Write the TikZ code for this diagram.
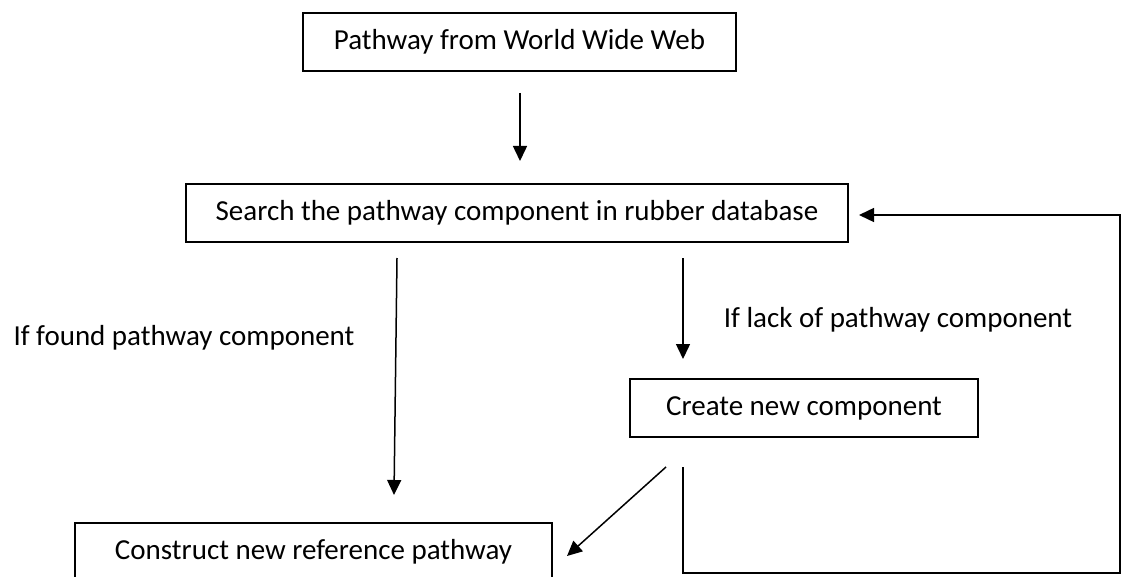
\documentclass[tikz,border=0pt]{standalone}
\usepackage{fontspec}
\setmainfont{Carlito}
\usetikzlibrary{arrows.meta}
\begin{document}
\begin{tikzpicture}[x=1pt,y=-1pt,
  box/.style={draw,line width=2pt,minimum height=58pt,inner sep=0pt,font=\fontsize{29}{35}\selectfont},
  lbl/.style={inner sep=0pt,font=\fontsize{29}{35}\selectfont},
  arr/.style={line width=1.5pt,-{Triangle[length=15pt,width=14pt]}},
  ln/.style={line width=1.5pt}]
\clip (0,0) rectangle (1123,577);
\fill[white] (0,0) rectangle (1123,577);
\node[box,minimum width=433pt] (web) at (519.5,42) {Pathway from World Wide Web};
\node[box,minimum width=662pt] (search) at (517,213) {Search the pathway component in rubber database};
\node[box,minimum width=348pt] (create) at (804,408) {Create new component};
\node[box,minimum width=477pt] (construct) at (313.5,552) {Construct new reference pathway};
\node[lbl] (found) at (184,338) {If found pathway component};
\node[lbl] (lack) at (898,320) {If lack of pathway component};
\coordinate (a1s) at (520,93);
\coordinate (a1e) at (520,161);
\coordinate (a2s) at (397,258);
\coordinate (a2e) at (394,495);
\coordinate (a3s) at (683,258);
\coordinate (a3e) at (683,359);
\coordinate (a4s) at (666,467);
\coordinate (a4e) at (567,556);
\coordinate (l1) at (683,467);
\coordinate (l2) at (683,573);
\coordinate (l3) at (1120,573);
\coordinate (l4) at (1120,215);
\coordinate (l5) at (859,215);
\draw[arr] (a1s) -- (a1e);
\draw[arr] (a2s) -- (a2e);
\draw[arr] (a3s) -- (a3e);
\draw[arr] (a4s) -- (a4e);
\draw[arr] (l1) -- (l2) -- (l3) -- (l4) -- (l5);
\end{tikzpicture}
\end{document}
